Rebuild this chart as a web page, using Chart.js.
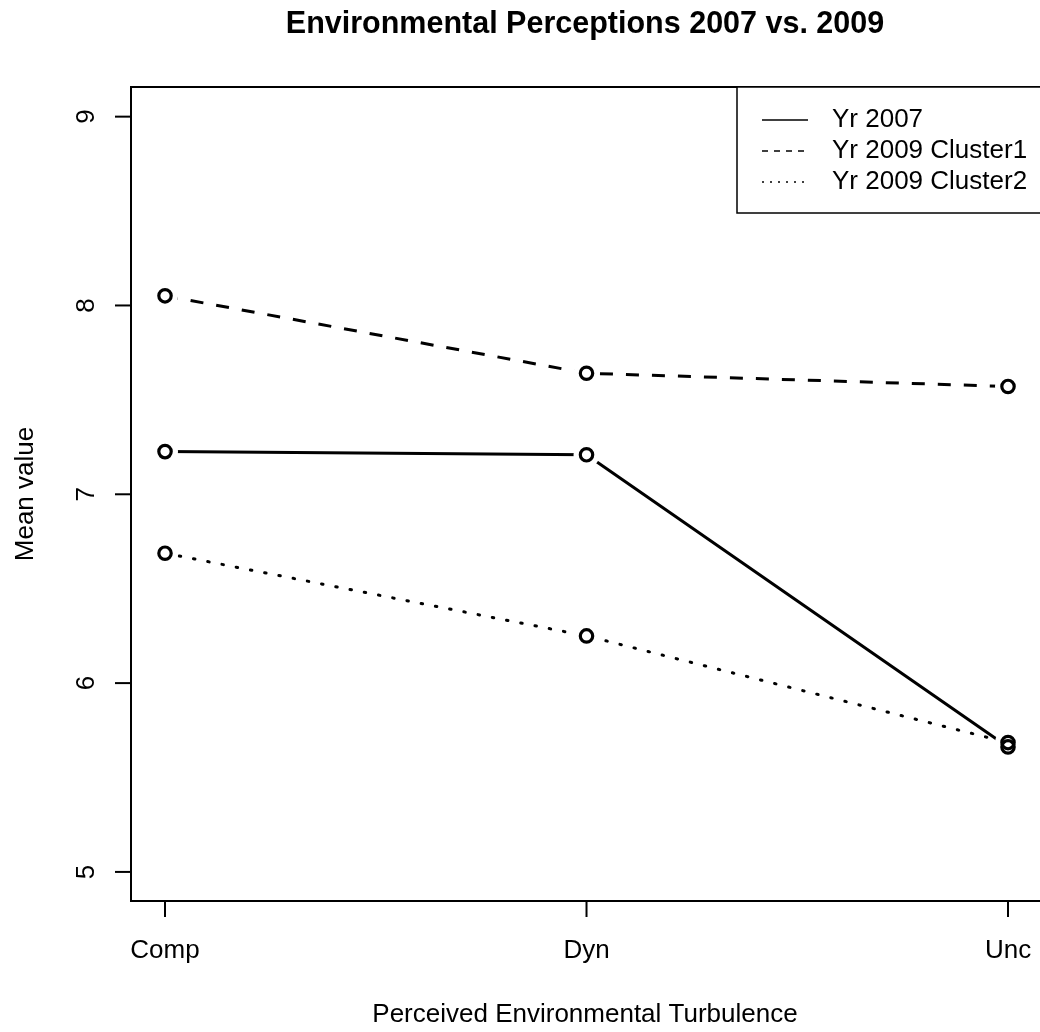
<!DOCTYPE html>
<html>
<head>
<meta charset="utf-8">
<script src="https://cdn.jsdelivr.net/npm/chart.js@4"></script>
<style>
  html,body{margin:0;padding:0;background:#fff;}
  canvas{display:block;}
</style>
</head>
<body>
<canvas id="chart" width="1040" height="1032"></canvas>
<script>
const categories = ["Comp", "Dyn", "Unc"];
const xPositions = [1, 2, 3];
const yr2007 = [7.226, 7.209, 5.662];
const yr2009c1 = [8.051, 7.641, 7.571];
const yr2009c2 = [6.688, 6.250, 5.685];
const yTicks = [5, 6, 7, 8, 9];
const seriesNames = ["Yr 2007", "Yr 2009 Cluster1", "Yr 2009 Cluster2"];

const FONT = "'Liberation Sans', Arial, Helvetica, sans-serif";

function toPoints(vals){
  return vals.map((v,i)=>({x:xPositions[i], y:v}));
}

// R-like frame, axes, labels, legend and "type=b" points
const rStyle = {
  id:"rStyle",
  afterDatasetsDraw(chart){
    const ctx = chart.ctx;

    // gaps round points, then the rings
    const pts = [];
    chart.data.datasets.forEach((d,i)=>{
      chart.getDatasetMeta(i).data.forEach(p=>pts.push(p));
    });
    ctx.save();
    ctx.fillStyle = "#fff";
    pts.forEach(p=>{
      ctx.beginPath();
      ctx.arc(p.x, p.y, 13, 0, Math.PI*2);
      ctx.fill();
    });
    ctx.strokeStyle = "#000";
    ctx.lineWidth = 3.2;
    pts.forEach(p=>{
      ctx.beginPath();
      ctx.arc(p.x, p.y, 6.2, 0, Math.PI*2);
      ctx.stroke();
    });
    ctx.restore();
  },
  afterDraw(chart){
    const ctx = chart.ctx;
    const a = chart.chartArea;
    const xs = chart.scales.x;
    const ys = chart.scales.y;

    ctx.save();
    ctx.strokeStyle = "#000";
    ctx.fillStyle = "#000";
    ctx.lineWidth = 2;

    // box
    ctx.strokeRect(a.left, a.top, a.right - a.left + 2, a.bottom - a.top);

    // x ticks
    ctx.font = "26px " + FONT;
    ctx.textAlign = "center";
    ctx.textBaseline = "alphabetic";
    categories.forEach((c,i)=>{
      const px = xs.getPixelForValue(xPositions[i]);
      ctx.beginPath();
      ctx.moveTo(px, a.bottom);
      ctx.lineTo(px, a.bottom + 16);
      ctx.stroke();
      ctx.fillText(c, px, 958);
    });

    // y ticks
    yTicks.forEach(t=>{
      const py = ys.getPixelForValue(t);
      ctx.beginPath();
      ctx.moveTo(a.left, py);
      ctx.lineTo(a.left - 16, py);
      ctx.stroke();
      ctx.save();
      ctx.translate(94, py);
      ctx.rotate(-Math.PI/2);
      ctx.fillText(String(t), 0, 0);
      ctx.restore();
    });

    // axis titles
    ctx.fillText("Perceived Environmental Turbulence", 585, 1022);
    ctx.save();
    ctx.translate(33, 494);
    ctx.rotate(-Math.PI/2);
    ctx.fillText("Mean value", 0, 0);
    ctx.restore();

    // title
    ctx.font = "bold 30.5px " + FONT;
    ctx.fillText("Environmental Perceptions 2007 vs. 2009", 585, 33);

    // legend
    ctx.lineWidth = 1.5;
    ctx.fillStyle = "#fff";
    ctx.fillRect(737, a.top, 320, 126);
    ctx.strokeRect(737, a.top, 320, 126);
    ctx.fillStyle = "#000";
    ctx.font = "26px " + FONT;
    ctx.textAlign = "left";
    const dashes = [[], [6,6], [2,6]];
    seriesNames.forEach((n,i)=>{
      const ly = 120 + i*31;
      ctx.setLineDash(dashes[i]);
      ctx.beginPath();
      ctx.moveTo(762, ly);
      ctx.lineTo(808, ly);
      ctx.stroke();
      ctx.setLineDash([]);
      ctx.fillText(n, 832, ly + 7);
    });
    ctx.restore();
  }
};

const common = {
  borderColor:"#000",
  borderWidth:3,
  pointRadius:0,
  pointHoverRadius:0,
  tension:0,
  fill:false
};

new Chart(document.getElementById("chart"), {
  type:"line",
  data:{
    datasets:[
      Object.assign({label:seriesNames[0], data:toPoints(yr2007)}, common),
      Object.assign({label:seriesNames[1], data:toPoints(yr2009c1), borderDash:[13,13]}, common),
      Object.assign({label:seriesNames[2], data:toPoints(yr2009c2), borderDash:[1.5,13], borderCapStyle:"round"}, common)
    ]
  },
  options:{
    responsive:false,
    animation:false,
    devicePixelRatio:1,
    layout:{padding:{left:131, top:87, right:0, bottom:131}},
    plugins:{legend:{display:false}, tooltip:{enabled:false}, title:{display:false}},
    scales:{
      x:{type:"linear", min:0.9193, max:3.0759, display:false},
      y:{type:"linear", min:4.846, max:9.157, display:false}
    }
  },
  plugins:[rStyle]
});
</script>
</body>
</html>
